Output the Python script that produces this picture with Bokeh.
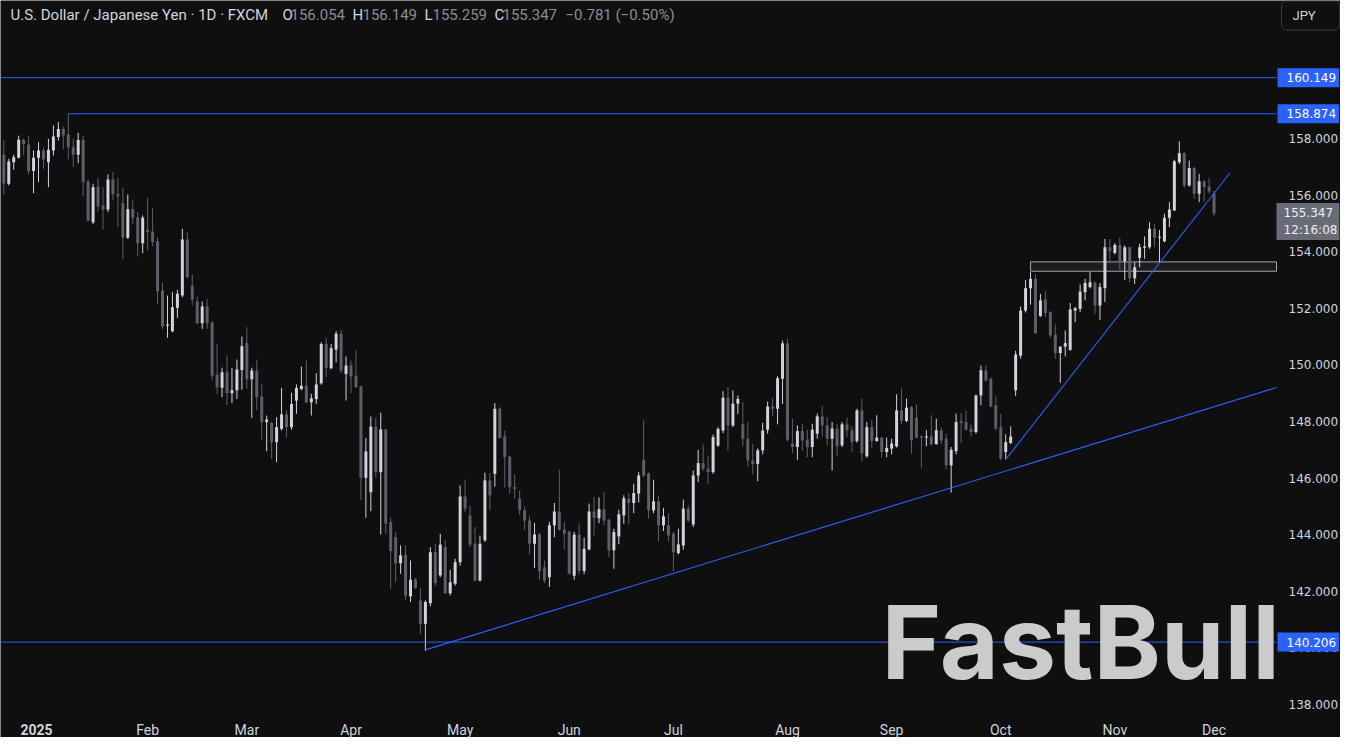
import numpy as np
from bokeh.plotting import figure
from bokeh.models import Range1d, Label, ColumnDataSource
from bokeh.core.properties import value
from bokeh.embed import file_html
from bokeh.resources import INLINE

# ---------------- data (USD/JPY daily, FXCM) ----------------
opens = [157.43, 156.40, 157.16, 157.32, 157.96, 157.79, 156.85, 157.32, 157.58, 157.16,
         157.58, 158.05, 158.34, 158.14, 157.69, 157.43, 157.95, 156.48, 155.04, 156.30,
         155.62, 155.49, 156.55, 156.04, 155.71, 154.49, 155.50, 155.22, 154.30, 154.78,
         154.71, 154.37, 152.63, 151.38, 151.19, 152.02, 152.45, 154.43, 152.80, 152.24,
         151.47, 152.06, 151.50, 149.66, 149.19, 149.74, 149.00, 149.10, 149.82, 150.77,
         149.49, 149.80, 148.88, 147.98, 147.95, 147.27, 147.74, 148.25, 147.80, 148.74,
         149.15, 149.26, 148.68, 148.79, 149.35, 150.74, 149.88, 150.54, 151.10, 149.68,
         149.98, 149.62, 149.24, 146.01, 145.50, 147.82, 146.21, 147.72, 144.44, 143.91,
         142.99, 143.29, 141.82, 142.42, 141.68, 140.85, 141.58, 143.38, 142.56, 143.56,
         141.93, 142.27, 143.03, 145.35, 144.68, 143.68, 142.38, 143.80, 145.92, 146.15,
         148.45, 147.47, 146.76, 145.68, 145.27, 144.86, 144.50, 143.68, 144.01, 142.85,
         142.50, 144.33, 144.82, 144.18, 144.11, 142.55, 144.00, 142.72, 143.48, 144.82,
         144.58, 144.90, 144.53, 143.45, 143.94, 144.68, 145.27, 145.12, 145.45, 146.65,
         146.17, 144.86, 145.18, 144.33, 144.33, 144.03, 143.35, 143.62, 144.92, 144.36,
         146.09, 146.53, 146.33, 146.21, 147.15, 147.68, 148.84, 147.86, 148.63, 147.90,
         147.39, 146.62, 146.50, 146.98, 147.71, 148.53, 148.45, 149.51, 150.76, 147.22,
         147.10, 147.66, 147.36, 147.10, 147.57, 148.18, 147.86, 147.39, 147.75, 147.16,
         147.90, 147.69, 147.31, 148.39, 146.77, 147.80, 147.31, 147.43, 146.92, 147.04,
         147.12, 148.39, 148.02, 148.51, 148.13, 147.47, 147.43, 147.47, 147.20, 147.69,
         147.39, 146.45, 146.95, 148.02, 147.98, 147.74, 147.63, 148.92, 149.81, 149.51,
         148.57, 147.80, 146.92, 147.24, 149.10, 150.33, 151.92, 152.71, 153.04, 151.72,
         152.31, 151.86, 151.07, 150.42, 150.65, 150.53, 151.92, 151.98, 152.57, 152.75,
         152.90, 152.10, 152.71, 154.16, 153.95, 154.24, 153.66, 154.16, 153.06, 153.78,
         154.14, 154.16, 154.81, 154.49, 154.37, 155.20, 155.46, 157.16, 157.48, 156.34,
         156.96, 156.05, 156.49, 156.30, 156.054]
highs = [157.95, 157.28, 157.43, 158.10, 158.00, 158.10, 157.58, 157.87, 157.69, 157.99,
         158.46, 158.58, 158.42, 158.874, 157.99, 158.20, 158.10, 156.55, 156.40, 156.61,
         156.28, 156.73, 156.81, 156.61, 156.26, 156.02, 155.81, 155.40, 155.28, 155.90,
         155.55, 154.51, 152.92, 152.45, 152.57, 152.65, 154.81, 154.71, 153.19, 152.42,
         152.24, 152.33, 151.55, 150.74, 149.90, 150.33, 149.90, 150.19, 151.00, 151.33,
         149.90, 150.19, 149.33, 148.21, 147.99, 148.15, 149.19, 148.39, 149.01, 149.31,
         149.94, 150.15, 148.98, 149.71, 150.80, 150.96, 150.74, 151.19, 151.24, 150.30,
         150.15, 150.51, 149.26, 147.42, 148.18, 148.13, 148.31, 147.74, 144.62, 144.09,
         143.62, 143.62, 143.09, 142.48, 142.12, 141.68, 143.56, 143.68, 144.03, 143.82,
         142.76, 143.15, 145.74, 145.95, 145.03, 144.27, 143.97, 146.19, 146.18, 148.65,
         148.50, 147.68, 146.80, 146.13, 145.56, 145.00, 144.65, 144.42, 144.06, 143.09,
         144.45, 145.12, 146.29, 144.45, 144.15, 144.10, 144.39, 143.90, 145.10, 145.33,
         145.32, 145.50, 144.55, 144.21, 144.88, 145.39, 145.47, 145.80, 146.21, 148.04,
         146.20, 145.94, 145.39, 144.95, 144.76, 144.10, 144.21, 145.24, 145.03, 146.27,
         147.00, 147.19, 146.80, 147.54, 147.80, 149.07, 149.21, 149.10, 148.92, 148.68,
         147.98, 147.21, 147.05, 147.95, 148.70, 148.83, 149.60, 150.86, 150.92, 148.10,
         147.86, 147.92, 147.71, 147.92, 148.28, 148.54, 148.16, 147.98, 147.90, 147.98,
         148.13, 147.83, 148.45, 148.81, 147.98, 148.06, 148.22, 147.47, 147.43, 147.39,
         148.96, 149.16, 148.81, 148.55, 148.60, 147.52, 147.69, 148.22, 148.10, 147.78,
         147.57, 147.10, 148.28, 148.30, 148.39, 147.90, 148.95, 149.98, 149.98, 149.57,
         148.89, 148.28, 147.55, 147.83, 150.50, 152.06, 153.00, 153.28, 153.20, 152.51,
         152.61, 151.90, 151.43, 150.45, 151.22, 152.19, 152.05, 152.84, 153.04, 153.28,
         152.95, 152.89, 154.45, 154.45, 154.30, 154.49, 154.22, 154.18, 153.63, 154.28,
         154.54, 155.04, 154.98, 154.77, 155.34, 155.75, 157.25, 157.90, 157.52, 157.22,
         157.00, 156.75, 156.54, 156.61, 156.149]
lows = [156.01, 156.34, 156.90, 157.30, 157.40, 156.73, 156.07, 156.46, 156.93, 156.28,
        157.40, 157.93, 157.63, 157.26, 156.99, 157.13, 155.96, 155.07, 154.98, 155.42,
        154.78, 155.40, 155.81, 154.87, 153.75, 154.45, 154.98, 153.83, 153.95, 154.04,
        154.20, 152.16, 151.27, 150.96, 151.15, 151.66, 152.39, 153.06, 152.10, 151.45,
        151.27, 151.27, 149.45, 148.98, 148.86, 148.59, 148.65, 148.80, 149.12, 149.15,
        148.13, 148.41, 147.35, 146.95, 146.68, 146.56, 147.68, 147.44, 147.71, 148.27,
        149.10, 148.65, 148.21, 148.62, 149.30, 149.56, 149.85, 150.09, 149.71, 148.74,
        149.00, 149.19, 145.23, 144.60, 144.83, 146.01, 144.01, 144.03, 142.09, 142.32,
        142.62, 141.68, 141.62, 142.08, 140.50, 139.89, 141.47, 142.20, 142.50, 141.90,
        141.85, 142.20, 142.91, 144.80, 143.56, 142.35, 142.35, 143.75, 144.86, 145.70,
        147.40, 145.66, 145.45, 145.27, 144.70, 144.17, 143.33, 142.83, 142.41, 142.29,
        142.15, 143.91, 144.15, 143.50, 142.60, 142.41, 142.60, 142.60, 143.45, 143.97,
        144.41, 144.33, 143.21, 142.80, 143.66, 144.39, 144.36, 144.76, 145.15, 146.03,
        144.57, 144.76, 143.77, 144.13, 143.77, 142.71, 143.30, 143.47, 144.45, 144.27,
        145.86, 146.27, 145.80, 146.15, 147.10, 147.59, 146.98, 147.80, 148.27, 147.12,
        146.39, 146.13, 145.89, 146.84, 147.57, 148.18, 147.90, 148.62, 147.30, 146.89,
        146.65, 146.98, 146.74, 146.74, 147.39, 147.47, 147.16, 146.27, 146.77, 147.10,
        147.45, 146.92, 147.25, 146.60, 146.72, 147.04, 147.28, 146.72, 146.74, 146.84,
        147.08, 147.90, 147.98, 146.86, 147.40, 146.37, 147.12, 147.15, 147.18, 147.20,
        146.30, 145.49, 146.84, 147.24, 147.68, 147.47, 147.57, 148.57, 149.40, 148.50,
        147.69, 146.63, 146.66, 147.20, 148.90, 150.22, 151.85, 152.13, 151.10, 151.71,
        151.69, 150.96, 150.22, 149.37, 150.30, 150.50, 151.51, 151.86, 152.28, 152.70,
        151.80, 151.59, 152.22, 153.69, 153.90, 153.36, 153.00, 152.92, 152.86, 153.45,
        153.75, 154.10, 154.16, 153.63, 154.33, 154.87, 155.44, 157.10, 156.26, 156.30,
        155.87, 155.75, 155.75, 156.05, 155.259]
closes = [156.40, 157.19, 157.34, 157.96, 157.81, 156.85, 157.32, 157.58, 157.26, 157.60,
          158.07, 158.34, 158.11, 157.69, 157.43, 157.95, 156.46, 155.10, 156.28, 155.60,
          155.49, 156.55, 156.04, 155.95, 154.49, 155.50, 155.20, 154.30, 155.20, 154.69,
          154.34, 152.60, 151.36, 151.43, 152.04, 152.51, 154.43, 153.10, 152.30, 151.47,
          152.06, 151.47, 149.62, 149.21, 149.74, 149.00, 149.10, 149.84, 150.66, 149.49,
          149.80, 148.86, 147.98, 148.07, 147.27, 147.80, 148.25, 147.80, 148.62, 149.19,
          149.26, 148.67, 148.82, 149.31, 150.74, 149.88, 150.59, 151.10, 149.80, 149.98,
          149.59, 149.21, 146.01, 146.94, 147.82, 146.21, 147.72, 144.39, 143.42, 142.99,
          143.27, 141.85, 142.41, 142.12, 140.85, 141.62, 143.38, 142.29, 143.65, 141.93,
          142.32, 143.03, 145.35, 144.92, 143.65, 142.38, 143.68, 145.92, 145.39, 148.45,
          147.42, 146.74, 145.68, 145.62, 144.86, 144.50, 143.68, 144.01, 142.71, 142.38,
          144.33, 144.82, 144.17, 144.03, 142.62, 144.00, 142.72, 143.50, 144.82, 144.60,
          144.90, 144.50, 143.45, 144.09, 144.72, 145.29, 145.12, 145.47, 146.09, 146.09,
          144.86, 145.18, 144.33, 144.65, 143.97, 143.38, 143.66, 144.92, 144.50, 146.09,
          146.53, 146.33, 146.21, 147.45, 147.74, 148.84, 147.86, 148.63, 148.80, 147.39,
          146.62, 146.50, 146.98, 147.68, 148.53, 148.45, 149.53, 150.76, 147.36, 147.10,
          147.66, 147.33, 147.10, 147.71, 148.18, 147.86, 147.39, 147.75, 147.12, 147.90,
          147.69, 147.27, 148.39, 146.88, 147.80, 147.31, 147.43, 146.92, 147.07, 147.22,
          148.39, 148.02, 148.49, 147.33, 147.43, 147.43, 147.47, 147.20, 147.69, 147.33,
          146.45, 147.00, 147.98, 147.95, 147.71, 147.63, 148.92, 149.81, 149.45, 148.53,
          147.75, 146.69, 147.27, 147.47, 150.37, 151.92, 152.71, 153.04, 151.12, 152.28,
          151.83, 151.04, 150.42, 150.65, 150.77, 151.96, 152.00, 152.59, 152.90, 152.92,
          152.10, 152.75, 154.16, 154.02, 154.24, 153.65, 154.16, 153.06, 153.45, 154.16,
          154.18, 154.81, 154.49, 154.53, 155.20, 155.49, 157.20, 157.48, 156.34, 156.96,
          156.05, 156.49, 156.28, 156.128, 155.347]

month_ticks = [6, 29, 49, 70, 92, 114, 135, 158, 179, 201, 224, 244]
month_labels = ["2025", "Feb", "Mar", "Apr", "May", "Jun", "Jul", "Aug", "Sep", "Oct", "Nov", "Dec"]
price_ticks = [138, 140, 142, 144, 146, 148, 150, 152, 154, 156, 158]

full_levels = [160.149, 140.206]          # horizontal lines across the chart
high_level = 158.874                      # horizontal line from the January high
high_level_bar = 13
support_x = [85, 256.6]                   # long rising trendline (bar index)
support_y = [139.93, 149.20]
steep_x = [202, 247.2]                    # steep trendline from October
steep_y = [146.66, 156.78]
zone_bar = 207                            # resistance zone
zone_low, zone_high = 153.31, 153.64
countdown = "12:16:08"

# ---------------- layout / style ----------------
W, H = 1340, 737
PX_PER_UNIT = 28.3          # vertical pixels per yen
BAR_PX = 4.96               # horizontal pixels per bar
X0_PX = 3.3                 # pixel of bar 0
Y158_PX = 138               # pixel of the 158 level
PLOT_RIGHT_PX = 1276        # where the chart area ends (price scale starts)

def px_x(px):
    return (px - X0_PX) / BAR_PX

def px_y(py):
    return 158 - (py - Y158_PX) / PX_PER_UNIT

X_END = px_x(PLOT_RIGHT_PX)

BG = "#0f0f0f"
UP, DOWN = "#d1d4dc", "#5d606b"
BLUE = "#2962ff"
TXT = "#d1d4dc"
GREY_TXT = "#8a8d96"

o = np.array(opens); h = np.array(highs); l = np.array(lows); c = np.array(closes)
idx = np.arange(len(o))
colors = np.where(c >= o, UP, DOWN)
src = ColumnDataSource(dict(x=idx, o=o, h=h, l=l, c=c,
                            top=np.maximum(o, c), bottom=np.minimum(o, c), color=colors))

p = figure(width=W, height=H, output_backend="svg", toolbar_location=None,
           x_range=Range1d(px_x(0), px_x(W)), y_range=Range1d(px_y(H), px_y(0)),
           x_axis_location=None, y_axis_location=None,
           background_fill_color=BG, border_fill_color=BG,
           outline_line_color=None, min_border=0)
p.grid.visible = False

# resistance zone
p.quad(left=[zone_bar], right=[X_END], bottom=[zone_low], top=[zone_high],
       fill_color="#ffffff", fill_alpha=0.06, line_color="#a3a6af", line_width=1)

# candles
p.segment(x0="x", y0="l", x1="x", y1="h", color="color", line_width=1, source=src)
p.vbar(x="x", width=0.6, top="top", bottom="bottom", fill_color="color",
       line_color=None, source=src)

# drawings
for lvl in full_levels:
    p.segment(x0=[px_x(0)], y0=[lvl], x1=[X_END], y1=[lvl], line_color=BLUE, line_width=1)
p.segment(x0=[high_level_bar], y0=[high_level], x1=[X_END], y1=[high_level],
          line_color=BLUE, line_width=1)
p.line(support_x, support_y, line_color=BLUE, line_width=1.1)
p.line(steep_x, steep_y, line_color=BLUE, line_width=1.1)

# price scale labels
p.text(x=[px_x(1288)] * len(price_ticks), y=price_ticks,
       text=[f"{t:.3f}" for t in price_ticks],
       text_font=value("DejaVu Sans"), text_font_size=value("12px"), text_color=TXT,
       text_align="left", text_baseline="middle")

# time scale labels
p.text(x=month_ticks[1:], y=[px_y(729)] * (len(month_ticks) - 1), text=month_labels[1:],
       text_font=value("Roboto"), text_font_size=value("14px"), text_color=TXT,
       text_align="center", text_baseline="middle")
p.text(x=[month_ticks[0] + 0.6], y=[px_y(729)], text=[month_labels[0]],
       text_font=value("Roboto"), text_font_style="bold", text_font_size=value("14px"),
       text_color=TXT, text_align="center", text_baseline="middle")

# watermark
p.add_layout(Label(x=px_x(881), y=px_y(641), text="FastBull",
                   text_font="Inter", text_font_style="bold", text_font_size="102px",
                   text_color="#cbcbcb", text_baseline="alphabetic", text_align="left"))

# price tags on the scale
def tag(price, text, fill, color="#ffffff"):
    p.add_layout(Label(x=px_x(1277), y=price, text=text,
                       text_font="DejaVu Sans", text_font_size="12px", text_color=color,
                       text_align="left", text_baseline="middle",
                       background_fill_color=fill,
                       padding=dict(left=9, right=3, top=5, bottom=5)))

for lvl in full_levels + [high_level]:
    tag(lvl, f"{lvl:.3f}", BLUE)
p.add_layout(Label(x=px_x(1276), y=px_y(221),
                   text=f"{closes[-1]:.3f}\n{countdown}",
                   text_font="DejaVu Sans", text_font_size="12px", text_color="#f0f0f0",
                   text_align="left", text_baseline="middle",
                   background_fill_color="#696c77",
                   padding=dict(left=7, right=2, top=3, bottom=3)))

# currency button
p.add_layout(Label(x=px_x(1281), y=px_y(15), text="JPY",
                   text_font="Roboto", text_font_size="13px", text_color=TXT,
                   text_align="left", text_baseline="middle",
                   border_line_color="#3a3a3e", border_line_width=1, border_radius=5,
                   padding=dict(left=11, right=24, top=7, bottom=7)))

# header
chg = closes[-1] - closes[-2]
pct = chg / closes[-2] * 100
fmt = lambda v: f"{v:.3f}".replace("-", "\u2212")
header = [
    (10, "U.S. Dollar / Japanese Yen \u00b7 1D \u00b7 FXCM", TXT),
    (282, "O", TXT), (290, fmt(opens[-1]), GREY_TXT),
    (352, "H", TXT), (362, fmt(highs[-1]), GREY_TXT),
    (424, "L", TXT), (432, fmt(lows[-1]), GREY_TXT),
    (494, "C", TXT), (502, fmt(closes[-1]), GREY_TXT),
    (565, f"{fmt(chg)} ({pct:.2f}%)".replace("-", "\u2212"), GREY_TXT),
]
for hx, htxt, hcol in header:
    p.add_layout(Label(x=px_x(hx), y=px_y(14), text=htxt,
                       text_font="Roboto", text_font_size="15px", text_color=hcol,
                       text_align="left", text_baseline="middle"))

open("out.html", "w").write(file_html(p, INLINE))
